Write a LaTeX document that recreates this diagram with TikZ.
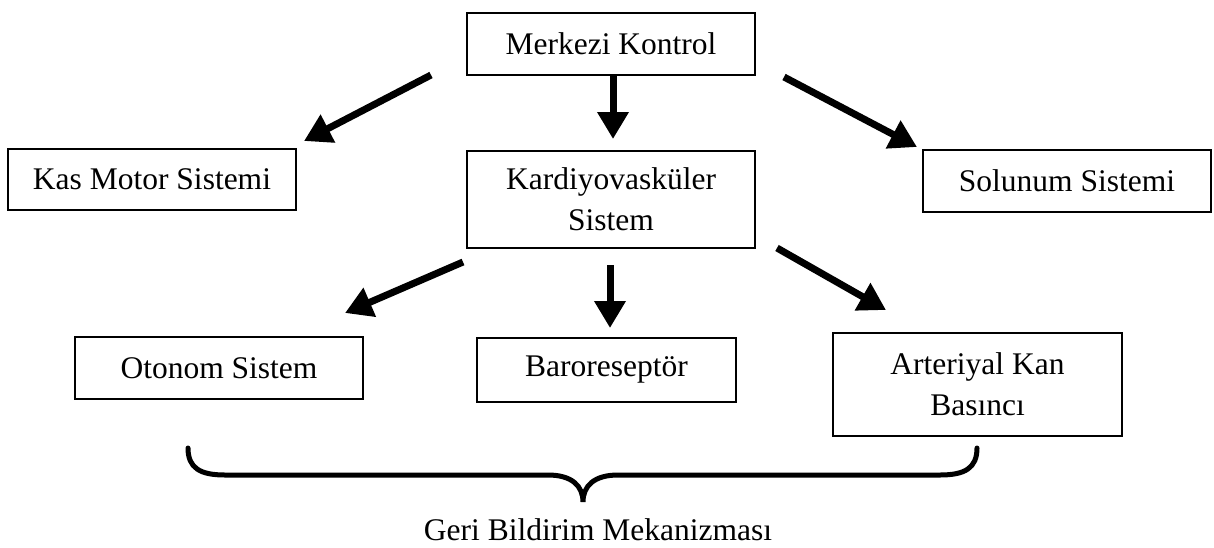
\documentclass[tikz,border=0pt]{standalone}
\usepackage{fontspec}
\setmainfont{Liberation Serif}
\usetikzlibrary{arrows.meta}
\tikzset{
  box/.style={draw, line width=2pt, inner sep=0pt, align=center,
    font=\fontsize{31.5}{41}\selectfont},
  arr/.style={line width=7pt, -{Triangle[width=30pt,length=27pt]}},
  bracepath/.style={line width=5pt, line cap=round},
  lbl/.style={font=\fontsize{31.5}{40}\selectfont, inner sep=0pt, anchor=base}
}
\begin{document}
\begin{tikzpicture}[x=1pt,y=-1pt]
\useasboundingbox (0,0) rectangle (1214,547);
% boxes
\node[box, minimum width=288pt, minimum height=62pt] (mk) at (611,44) {Merkezi Kontrol};
\node[box, minimum width=288pt, minimum height=61pt] (kas) at (152,179.5) {Kas Motor Sistemi};
\node[box, minimum width=288pt, minimum height=97pt] (kv) at (611,199.5) {Kardiyovasküler\\Sistem};
\node[box, minimum width=288pt, minimum height=62pt] (sol) at (1067,181) {Solunum Sistemi};
\node[box, minimum width=288pt, minimum height=62pt] (oto) at (219,368) {Otonom Sistem};
\node[box, minimum width=259pt, minimum height=64pt] (baro) at (606.5,370) {Baroreseptör};
\node[box, minimum width=289pt, minimum height=103pt] (art) at (977.5,384.5) {Arteriyal Kan\\Basıncı};
% arrow ends
\coordinate (a1s) at (431,75);  \coordinate (a1e) at (304,141);
\coordinate (a2s) at (613,76);  \coordinate (a2e) at (613,139);
\coordinate (a3s) at (784,77);  \coordinate (a3e) at (917,147);
\coordinate (b1s) at (463,262); \coordinate (b1e) at (345,313);
\coordinate (b2s) at (610,265); \coordinate (b2e) at (610,328);
\coordinate (b3s) at (777,248); \coordinate (b3e) at (886,310);
\draw[arr] (a1s) -- (a1e);
\draw[arr] (a2s) -- (a2e);
\draw[arr] (a3s) -- (a3e);
\draw[arr] (b1s) -- (b1e);
\draw[arr] (b2s) -- (b2e);
\draw[arr] (b3s) -- (b3e);
% brace
\coordinate (brL) at (188,448);
\coordinate (brT) at (583,502);
\coordinate (brR) at (977,448);
\draw[bracepath] (brL) .. controls (188,468) and (200,475) .. (225,475) -- (548,475)
  .. controls (572,475) and (583,486) .. (brT)
  .. controls (583,486) and (594,475) .. (618,475) -- (940,475)
  .. controls (965,475) and (977,468) .. (brR);
\node[lbl] (geri) at (598,540) {Geri Bildirim Mekanizması};
\end{tikzpicture}
\end{document}
